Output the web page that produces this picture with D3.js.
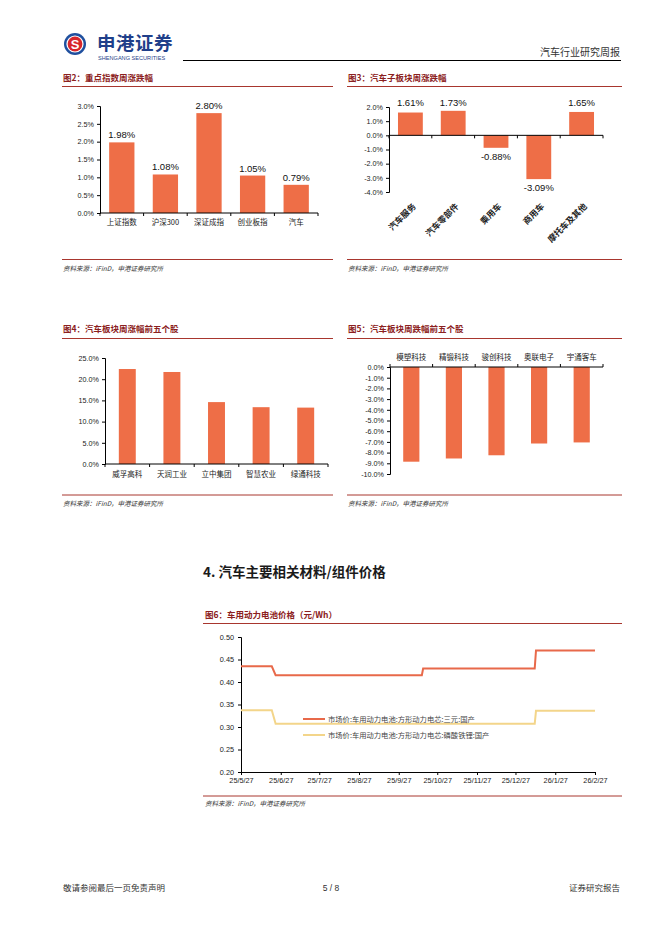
<!DOCTYPE html>
<html><head><meta charset="utf-8">
<script src="https://cdn.jsdelivr.net/npm/d3@7"></script>
<style>
html,body{margin:0;padding:0;background:#fff;}
svg{display:block;}
</style></head>
<body>
<svg id="page" width="662" height="936"></svg>
<script>
// ---------- DATA ----------
const fig2Categories = ["上证指数","沪深300","深证成指","创业板指","汽车"];
const fig2Values = [1.98, 1.08, 2.80, 1.05, 0.79];
const fig2Ticks = [0, 0.5, 1.0, 1.5, 2.0, 2.5, 3.0];

const fig3Categories = ["汽车服务","汽车零部件","乘用车","商用车","摩托车及其他"];
const fig3Values = [1.61, 1.73, -0.88, -3.09, 1.65];
const fig3Ticks = [-4, -3, -2, -1, 0, 1, 2];

const fig4Categories = ["威孚高科","天润工业","立中集团","智慧农业","绿通科技"];
const fig4Values = [22.4, 21.7, 14.6, 13.4, 13.3];
const fig4Ticks = [0, 5, 10, 15, 20, 25];

const fig5Categories = ["模塑科技","精锻科技","骏创科技","奥联电子","宇通客车"];
const fig5Values = [-8.85, -8.55, -8.25, -7.15, -7.05];
const fig5Ticks = [0,-1,-2,-3,-4,-5,-6,-7,-8,-9,-10];

const fig6Dates = ["2025-05-27","2025-06-20","2025-06-23","2025-10-15","2025-10-16","2026-01-11","2026-01-12","2026-02-27"];
const fig6Ternary = [0.435, 0.435, 0.415, 0.415, 0.430, 0.430, 0.470, 0.470];
const fig6LFP     = [0.337, 0.337, 0.307, 0.307, 0.307, 0.307, 0.336, 0.336];
const fig6SeriesNames = ["市场价:车用动力电池:方形动力电芯:三元:国产","市场价:车用动力电池:方形动力电芯:磷酸铁锂:国产"];
const fig6TickDates = ["2025-05-27","2025-06-27","2025-07-27","2025-08-27","2025-09-27","2025-10-27","2025-11-27","2025-12-27","2026-01-27","2026-02-27"];
const fig6YTicks = [0.20,0.25,0.30,0.35,0.40,0.45,0.50];

// ---------- STYLE ----------
const BAR = "#EE6E47";
const RED_LINE = "#E8694A";
const YEL_LINE = "#F3D58A";
const TITLE_C = "#8B2020";
const RULE_C = "#A8362E";
const CJK = "'Noto Sans CJK SC','Noto Sans',sans-serif";
const LAT = "'Liberation Sans',Arial,sans-serif";
const pct1 = d => d3.format(".1f")(d).replace("−","-") + "%";
const pct2 = d => d3.format(".2f")(d).replace("−","-") + "%";

const svg = d3.select("#page");

// ---------- HEADER ----------
const logo = svg.append("g");
logo.append("circle").attr("cx",75).attr("cy",44).attr("r",11).attr("fill","#1f4f9e");
logo.append("circle").attr("cx",75).attr("cy",44).attr("r",8.6).attr("fill","#fff");
logo.append("circle").attr("cx",75).attr("cy",44).attr("r",7.4).attr("fill","#d7262b");
logo.append("text").attr("x",75).attr("y",48.5).attr("text-anchor","middle")
  .attr("font-family",LAT).attr("font-weight","bold").attr("font-size",13).attr("fill","#fff").text("S");
logo.append("text").attr("x",97).attr("y",50).attr("font-family",CJK).attr("font-weight","bold")
  .attr("font-size",18.5).attr("fill","#1f3f8a").attr("letter-spacing",0.5).text("申港证券");
logo.append("text").attr("x",98).attr("y",60).attr("font-family",LAT)
  .attr("font-size",5.6).attr("fill","#1f3f8a").text("SHENGANG SECURITIES");
svg.append("line").attr("x1",183).attr("x2",621).attr("y1",60.5).attr("y2",60.5).attr("stroke","#000").attr("stroke-width",1);
svg.append("text").attr("x",620).attr("y",56).attr("text-anchor","end").attr("font-family",CJK)
  .attr("font-size",10).attr("fill","#333").text("汽车行业研究周报");

// ---------- FOOTER ----------
svg.append("text").attr("x",63).attr("y",891).attr("font-family",CJK).attr("font-size",8.5).attr("fill","#333").text("敬请参阅最后一页免责声明");
svg.append("text").attr("x",331).attr("y",891).attr("text-anchor","middle").attr("font-family",LAT).attr("font-size",8.5).attr("fill","#333").text("5 / 8");
svg.append("text").attr("x",620).attr("y",891).attr("text-anchor","end").attr("font-family",CJK).attr("font-size",8.5).attr("fill","#333").text("证券研究报告");

// ---------- helpers ----------
function panelFrame(x1, x2, titleY, ruleY, srcRuleY, title){
  svg.append("text").attr("x",x1+1).attr("y",titleY).attr("font-family",CJK).attr("font-weight","bold")
    .attr("font-size",8.5).attr("fill",TITLE_C).text(title);
  svg.append("line").attr("x1",x1).attr("x2",x2).attr("y1",ruleY).attr("y2",ruleY).attr("stroke",RULE_C).attr("stroke-width",1);
  svg.append("line").attr("x1",x1).attr("x2",x2).attr("y1",srcRuleY).attr("y2",srcRuleY).attr("stroke",RULE_C).attr("stroke-width",1);
  svg.append("text").attr("x",x1+1).attr("y",srcRuleY+11).attr("font-family",CJK).attr("font-style","italic")
    .attr("font-size",6.5).attr("fill","#333").text("资料来源：iFinD，申港证券研究所");
}

function barChart(o){
  const g = svg.append("g");
  const x = d3.scaleBand().domain(o.cats).range([o.x0,o.x1]).paddingInner(o.pad).paddingOuter(o.pad/2);
  const y = d3.scaleLinear().domain(o.domain).range([o.yBottom,o.yTop]);
  const ya = d3.axisLeft(y).tickValues(o.ticks).tickSize(3).tickPadding(3).tickFormat(pct1);
  const yg = g.append("g").attr("transform",`translate(${o.x0},0)`).call(ya);
  yg.select(".domain").attr("stroke","#000");
  yg.selectAll(".tick line").attr("stroke","#000");
  yg.selectAll("text").attr("font-family",LAT).attr("font-size",7.2).attr("fill","#222");
  g.selectAll("rect.bar").data(o.vals).enter().append("rect")
    .attr("x",(d,i)=>x(o.cats[i])).attr("width",x.bandwidth())
    .attr("y",d=>Math.min(y(d),y(0))).attr("height",d=>Math.abs(y(d)-y(0)))
    .attr("fill",BAR);
  const zy = y(0);
  g.append("line").attr("x1",o.x0).attr("x2",o.x1).attr("y1",zy).attr("y2",zy).attr("stroke","#000");
  const bounds = d3.range(o.cats.length+1).map(i=>o.x0 + i*(o.x1-o.x0)/o.cats.length);
  g.selectAll("line.xt").data(bounds).enter().append("line")
    .attr("x1",d=>d).attr("x2",d=>d).attr("y1",zy).attr("y2",zy+(o.tickUp?-3:3)).attr("stroke","#000");
  if(o.rotate){
    o.cats.forEach((c,i)=>{
      const cx = x(c)+x.bandwidth()/2 + 6;
      const cy = o.labelY;
      g.append("text").attr("transform",`translate(${cx},${cy}) rotate(-45)`).attr("text-anchor","end")
        .attr("font-family",CJK).attr("font-weight","bold").attr("font-size",8.5).attr("fill","#222").text(c);
    });
  } else {
    g.selectAll("text.cat").data(o.cats).enter().append("text")
      .attr("x",d=>x(d)+x.bandwidth()/2).attr("y",o.labelY).attr("text-anchor","middle")
      .attr("font-family",CJK).attr("font-size",7.5).attr("fill","#222").text(d=>d);
  }
  if(o.valueLabels){
    g.selectAll("text.val").data(o.vals).enter().append("text")
      .attr("x",(d,i)=>x(o.cats[i])+x.bandwidth()/2)
      .attr("y",(d,i)=> o.valueY(d,y))
      .attr("text-anchor","middle").attr("font-family",LAT).attr("font-size",9.5).attr("fill","#111")
      .text(pct2);
  }
}

// ---------- FIG 2 ----------
panelFrame(62, 333, 81, 86.5, 259.5, "图2：重点指数周涨跌幅");
barChart({cats:fig2Categories, vals:fig2Values, ticks:fig2Ticks, domain:[0,3], x0:100, x1:318,
  yTop:106, yBottom:213, pad:0.42, labelY:225, valueLabels:true,
  valueY:(d,y)=> y(d)-4});

// ---------- FIG 3 ----------
panelFrame(347, 622, 81, 86.5, 259.5, "图3：汽车子板块周涨跌幅");
barChart({cats:fig3Categories, vals:fig3Values, ticks:fig3Ticks, domain:[-4,2], x0:389, x1:603,
  yTop:107, yBottom:192, pad:0.42, labelY:207, rotate:true, valueLabels:true,
  valueY:(d,y)=> d>=0 ? 106 : y(d)+12});

// ---------- FIG 4 ----------
panelFrame(62, 333, 332, 338.5, 495, "图4：汽车板块周涨幅前五个股");
barChart({cats:fig4Categories, vals:fig4Values, ticks:fig4Ticks, domain:[0,25], x0:105, x1:328,
  yTop:358, yBottom:464, pad:0.62, labelY:477, valueLabels:false});

// ---------- FIG 5 ----------
panelFrame(347, 622, 332, 338.5, 495, "图5：汽车板块周跌幅前五个股");
barChart({cats:fig5Categories, vals:fig5Values, ticks:fig5Ticks, domain:[-10,0], x0:390, x1:603,
  yTop:367, yBottom:474, pad:0.62, labelY:360, valueLabels:false, tickUp:true});

// ---------- SECTION TITLE ----------
svg.append("text").attr("x",203).attr("y",577).attr("font-family",CJK).attr("font-weight","bold")
  .attr("font-size",13.5).attr("fill","#1a1a1a").text("4. 汽车主要相关材料/组件价格");

// ---------- FIG 6 ----------
svg.append("text").attr("x",205).attr("y",618).attr("font-family",CJK).attr("font-weight","bold")
  .attr("font-size",8.5).attr("fill",TITLE_C).text("图6：车用动力电池价格（元/Wh）");
svg.append("line").attr("x1",203).attr("x2",622).attr("y1",623.5).attr("y2",623.5).attr("stroke",RULE_C);
svg.append("line").attr("x1",203).attr("x2",622).attr("y1",796).attr("y2",796).attr("stroke",RULE_C);
svg.append("text").attr("x",205).attr("y",806).attr("font-family",CJK).attr("font-style","italic")
  .attr("font-size",6.5).attr("fill","#333").text("资料来源：iFinD，申港证券研究所");

(function(){
  const parse = d3.timeParse("%Y-%m-%d");
  const dates = fig6Dates.map(parse);
  const x = d3.scaleTime().domain([parse("2025-05-27"), parse("2026-02-27")]).range([241,595]);
  const y = d3.scaleLinear().domain([0.20,0.50]).range([772,637]);
  const g = svg.append("g");
  const ya = d3.axisLeft(y).tickValues(fig6YTicks).tickSize(3).tickPadding(4).tickFormat(d3.format(".2f"));
  const yg = g.append("g").attr("transform","translate(241,0)").call(ya);
  yg.selectAll("text").attr("font-family",LAT).attr("font-size",7.3).attr("fill","#222");
  const xa = d3.axisBottom(x).tickValues(fig6TickDates.map(parse)).tickSize(3).tickPadding(3)
    .tickFormat(d=> d3.timeFormat("%y/%-m/%d")(d));
  const xg = g.append("g").attr("transform","translate(0,772)").call(xa);
  xg.selectAll("text").attr("font-family",LAT).attr("font-size",7.3).attr("fill","#222");
  [yg,xg].forEach(a=>{a.select(".domain").attr("stroke","#000"); a.selectAll(".tick line").attr("stroke","#000");});
  const line = d3.line().x((d,i)=>x(dates[i])).y(d=>y(d));
  g.append("path").datum(fig6LFP).attr("d",line).attr("fill","none").attr("stroke",YEL_LINE).attr("stroke-width",2);
  g.append("path").datum(fig6Ternary).attr("d",line).attr("fill","none").attr("stroke",RED_LINE).attr("stroke-width",2);
  const lg = [{c:RED_LINE,t:fig6SeriesNames[0],y:719},{c:YEL_LINE,t:fig6SeriesNames[1],y:735}];
  lg.forEach(l=>{
    g.append("line").attr("x1",303).attr("x2",325).attr("y1",l.y).attr("y2",l.y).attr("stroke",l.c).attr("stroke-width",2);
    g.append("text").attr("x",328).attr("y",l.y+3).attr("font-family",CJK).attr("font-size",7.3).attr("fill","#444").text(l.t);
  });
})();
</script>
</body></html>
